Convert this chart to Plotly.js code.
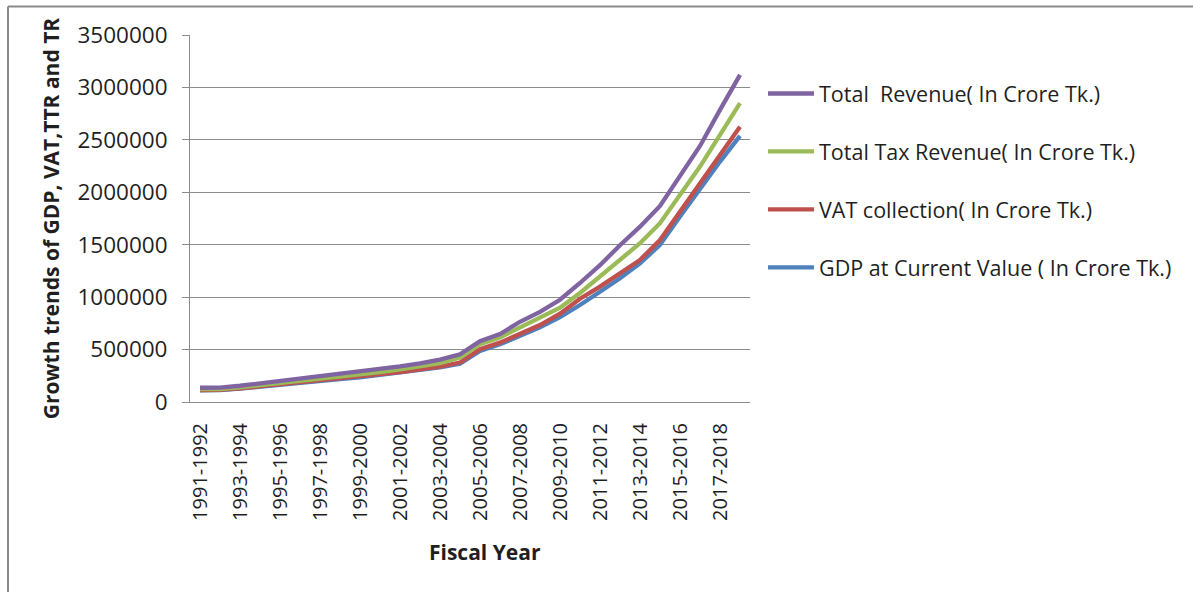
<!DOCTYPE html>
<html>
<head>
<meta charset="utf-8">
<script src="https://cdn.plot.ly/plotly-3.0.1.min.js"></script>
<style>
  html, body { margin: 0; padding: 0; background: #ffffff; }
  #chart { width: 1193px; height: 592px; }
</style>
</head>
<body>
<div id="chart"></div>
<script>
// Fiscal years 1991-1992 through 2018-2019
const fiscalYears = [
  "1991-1992", "1992-1993", "1993-1994", "1994-1995", "1995-1996", "1996-1997",
  "1997-1998", "1998-1999", "1999-2000", "2000-2001", "2001-2002", "2002-2003",
  "2003-2004", "2004-2005", "2005-2006", "2006-2007", "2007-2008", "2008-2009",
  "2009-2010", "2010-2011", "2011-2012", "2012-2013", "2013-2014", "2014-2015",
  "2015-2016", "2016-2017", "2017-2018", "2018-2019"
];

// Values in crore Tk.
const totalRevenue = [
  136000, 138000, 155000, 178000, 198000, 216000, 240000, 262000, 284000, 310000,
  340000, 368000, 405000, 455000, 580000, 648000, 765000, 860000, 975000, 1135000,
  1305000, 1495000, 1672000, 1870000, 2150000, 2442000, 2786000, 3120000
];
const totalTaxRevenue = [
  122000, 124000, 140000, 160000, 180000, 196000, 218000, 238000, 258000, 284000,
  312000, 337000, 370000, 424000, 552000, 616000, 712000, 798000, 900000, 1040000,
  1195000, 1361000, 1514000, 1705000, 1975000, 2245000, 2547000, 2850000
];
const vatCollection = [
  113000, 115000, 130000, 150000, 168000, 184000, 204000, 222000, 240000, 262000,
  286000, 312000, 337000, 376000, 503000, 566000, 655000, 734000, 843000, 985000,
  1100000, 1228000, 1355000, 1545000, 1815000, 2086000, 2356000, 2626000
];
const gdpCurrent = [
  112000, 114000, 128000, 148000, 166000, 182000, 202000, 219000, 236000, 258000,
  281000, 305000, 330000, 366000, 486000, 550000, 632000, 712000, 810000, 925000,
  1052000, 1180000, 1323000, 1498000, 1768000, 2039000, 2293000, 2538000
];

// Drawn bottom-to-top; legend lists them top-to-bottom via legendrank
const seriesNames = [
  "GDP at Current Value ( In Crore Tk.)",
  "VAT collection( In Crore Tk.)",
  "Total Tax Revenue( In Crore Tk.)",
  "Total  Revenue( In Crore Tk.)"
];
const seriesValues = [gdpCurrent, vatCollection, totalTaxRevenue, totalRevenue];
const seriesColors = ["#4F81BD", "#C0504D", "#9BBB59", "#8064A2"];
const seriesRanks = [4, 3, 2, 1];

const FONT = "'Open Sans', Lato, 'Liberation Sans', sans-serif";
const TEXT = "#1f1f1f";
const GRID = "#8c8c8c";

const traces = seriesValues.map((vals, i) => ({
  type: "scatter",
  mode: "lines",
  x: fiscalYears,
  y: vals,
  name: seriesNames[i],
  legendgroup: "g" + i,
  legendrank: seriesRanks[i],
  line: { color: seriesColors[i], width: 4.3, shape: "linear" },
  hoverinfo: "x+y+name"
}));

const layout = {
  width: 1193,
  height: 592,
  paper_bgcolor: "#ffffff",
  plot_bgcolor: "#ffffff",
  margin: { l: 190, r: 443, t: 35, b: 190, pad: 0 },
  font: { family: FONT, color: TEXT, size: 20 },
  showlegend: true,
  legend: {
    x: (763 - 190) / 560,
    xanchor: "left",
    y: 1 - (73 - 35) / 367,
    yanchor: "top",
    traceorder: "grouped",
    tracegroupgap: 27,
    itemwidth: 46,
    bgcolor: "rgba(0,0,0,0)",
    font: { family: FONT, size: 21.5, color: TEXT }
  },
  xaxis: {
    type: "category",
    range: [-0.5, 27.5],
    dtick: 2,
    tickangle: -90,
    ticks: "",
    ticklabelstandoff: 12,
    showgrid: false,
    showline: true,
    linecolor: GRID,
    linewidth: 1,
    zeroline: false,
    tickfont: { family: FONT, size: 20, color: TEXT },
    fixedrange: true
  },
  yaxis: {
    range: [0, 3500000],
    tickmode: "linear",
    tick0: 0,
    dtick: 500000,
    tickformat: "d",
    ticks: "outside",
    ticklen: 7,
    tickcolor: GRID,
    ticklabelstandoff: 10,
    showgrid: true,
    gridcolor: GRID,
    gridwidth: 1,
    showline: true,
    linecolor: GRID,
    linewidth: 1,
    zeroline: false,
    tickfont: { family: FONT, size: 22.5, color: TEXT },
    title: {
      text: "<b>Growth trends of GDP, VAT,TTR and TR</b>",
      font: { family: FONT, size: 21, color: TEXT },
      standoff: 12
    },
    fixedrange: true
  },
  annotations: [
    {
      text: "<b>Fiscal Year</b>",
      xref: "paper", yref: "paper",
      x: (485 - 190) / 560, y: -(552 - 402) / 367,
      xanchor: "center", yanchor: "middle",
      showarrow: false,
      font: { family: FONT, size: 21, color: TEXT }
    }
  ],
  shapes: [
    // outer frame: top edge and left edge
    {
      type: "line", xref: "paper", yref: "paper",
      x0: (8 - 190) / 560, x1: 2.0,
      y0: 1 + (35 - 6.5) / 367, y1: 1 + (35 - 6.5) / 367,
      line: { color: "#8a8a8a", width: 2 }
    },
    {
      type: "line", xref: "paper", yref: "paper",
      x0: (8 - 190) / 560, x1: (8 - 190) / 560,
      y0: 1 + (35 - 6.5) / 367, y1: -0.7,
      line: { color: "#8a8a8a", width: 2 }
    }
  ]
};

Plotly.newPlot("chart", traces, layout, { displayModeBar: false, staticPlot: true });
</script>
</body>
</html>
